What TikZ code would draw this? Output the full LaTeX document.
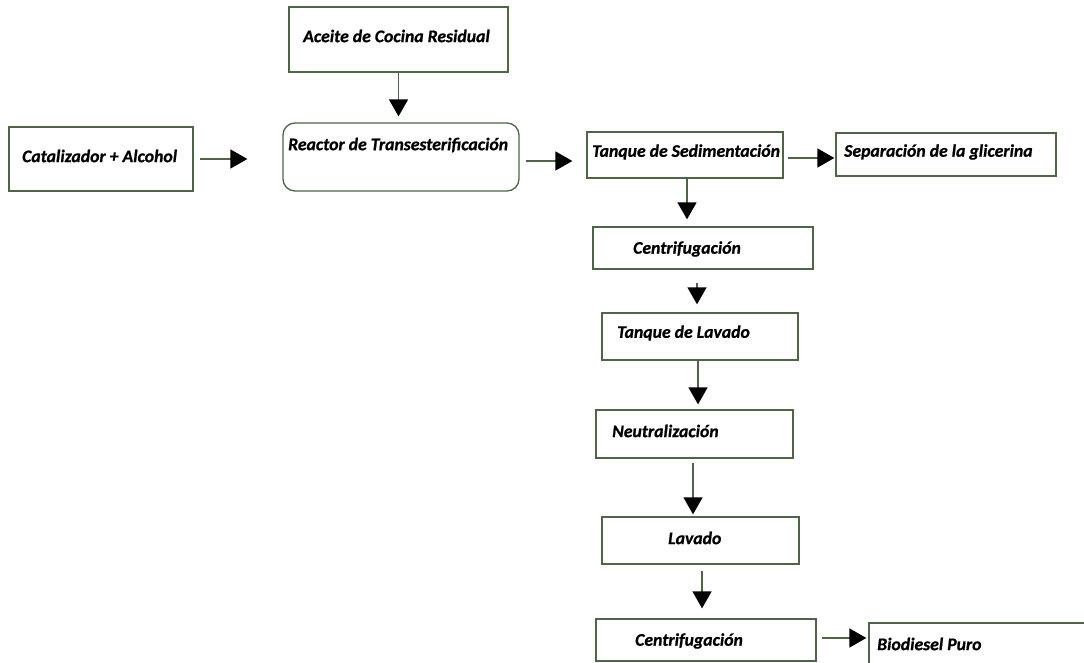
\documentclass[tikz,border=0pt]{standalone}
\usepackage{fontspec}
\setmainfont{Carlito}[BoldItalicFeatures={FakeBold=0.8}]
\usetikzlibrary{arrows.meta}
\definecolor{edge}{HTML}{4F6449}
\tikzset{
  box/.style={draw=edge, line width=1.3pt, fill=white, inner sep=0pt},
  lbl/.style={anchor=west, inner sep=0pt, font=\fontsize{17.7}{19}\selectfont\bfseries\itshape},
  flow/.style={draw=edge, line width=1.5pt,
    -{Triangle[length=17pt,width=19pt,color=black]}},
}
\begin{document}
\begin{tikzpicture}[x=1pt,y=-1pt]
\useasboundingbox (0,0) rectangle (1084,663);
\clip (0,0) rectangle (1084,663);
\fill[white] (0,0) rectangle (1084,663);

% process boxes
\node[box, minimum width=219pt, minimum height=65pt] (aceite) at (398.5,39.5) {};
\node[box, minimum width=184pt, minimum height=64pt] (cat) at (101,159) {};
\node[box, rounded corners=12pt, minimum width=236pt, minimum height=68pt] (reac) at (401,157) {};
\node[box, minimum width=196pt, minimum height=46pt] (sed) at (685,155) {};
\node[box, minimum width=220pt, minimum height=43pt] (sep) at (946,154.5) {};
\node[box, minimum width=220pt, minimum height=42pt] (cen1) at (703,248) {};
\node[box, minimum width=196pt, minimum height=47pt] (tlav) at (700,336.5) {};
\node[box, minimum width=197pt, minimum height=48pt] (neu) at (694.5,434) {};
\node[box, minimum width=197pt, minimum height=47pt] (lav) at (700.5,540.5) {};
\node[box, minimum width=220pt, minimum height=42pt] (cen2) at (706,640) {};
\node[box, minimum width=221pt, minimum height=67pt] (bio) at (979.5,656.5) {};

% labels
\node[lbl] (t-aceite) at (303,36) {Aceite de Cocina Residual};
\node[lbl] (t-cat) at (22,156) {Catalizador + Alcohol};
\node[lbl] (t-reac) at (288,145) {Reactor de Transesterificación};
\node[lbl] (t-sed) at (592,152) {Tanque de Sedimentación};
\node[lbl] (t-sep) at (844,152) {Separación de la glicerina};
\node[lbl] (t-cen1) at (633,249) {Centrifugación};
\node[lbl] (t-tlav) at (617,333) {Tanque de Lavado};
\node[lbl] (t-neu) at (612,431) {Neutralización};
\node[lbl] (t-lav) at (668,538) {Lavado};
\node[lbl] (t-cen2) at (635,641) {Centrifugación};
\node[lbl] (t-bio) at (877,644) {Biodiesel Puro};

% connectors
\draw[flow, shorten >=6pt] (aceite.south) -- (aceite.south |- reac.north);
\draw[flow, shorten <=6pt, shorten >=35pt] (cat.east) -- (cat.east -| reac.west);
\draw[flow, shorten <=6pt, shorten >=14pt] ([yshift=-4pt]reac.east) -- ([yshift=-4pt]reac.east -| sed.west);
\draw[flow, shorten <=4pt, shorten >=1pt] ([yshift=-3pt]sed.east) -- ([yshift=-3pt]sed.east -| sep.west);
\draw[flow, shorten >=7pt] (sed.south) ++(2pt,0) coordinate (s1) (s1) -- (s1 |- cen1.north);
\draw[flow, shorten <=13pt, shorten >=8pt] ([xshift=-6pt]cen1.south) -- ([xshift=-6pt]cen1.south |- tlav.north);
\draw[flow, shorten >=5pt] ([xshift=-2pt]tlav.south) -- ([xshift=-2pt]tlav.south |- neu.north);
\draw[flow, shorten <=4pt, shorten >=2pt] ([xshift=-1.5pt]neu.south) -- ([xshift=-1.5pt]neu.south |- lav.north);
\draw[flow, shorten <=6pt, shorten >=10pt] ([xshift=1.5pt]lav.south) -- ([xshift=1.5pt]lav.south |- cen2.north);
\draw[flow, shorten <=5pt, shorten >=2pt] ([yshift=2pt]cen2.east) -- ([yshift=2pt]cen2.east -| bio.west);
\end{tikzpicture}
\end{document}
